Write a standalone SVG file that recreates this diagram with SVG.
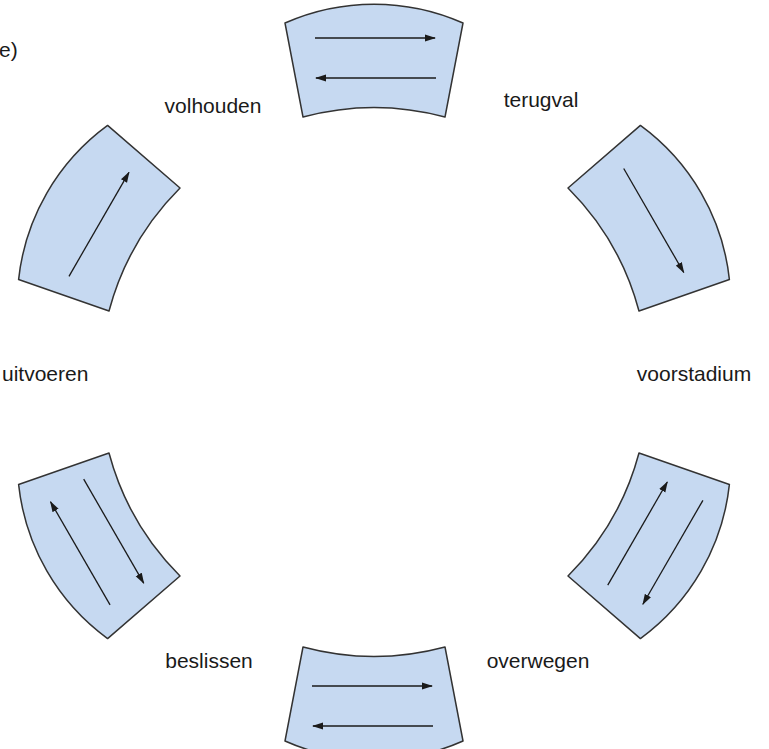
<svg xmlns="http://www.w3.org/2000/svg" width="769" height="749" viewBox="0 0 769 749">
<defs>
<style>
.seg{fill:#c6d9f1;stroke:#333333;stroke-width:1.5;stroke-linejoin:round}
.arr{stroke:#1a1a1a;stroke-width:1.3;fill:none;marker-end:url(#ah)}
.lbl{font-family:"Liberation Sans",Arial,Helvetica,sans-serif;font-size:21px;fill:#1a1a1a}
</style>
<marker id="ah" markerWidth="11" markerHeight="8" refX="10" refY="4" orient="auto" markerUnits="userSpaceOnUse">
<path d="M0,0.5 L11,4 L0,7.5 Z" fill="#1a1a1a"/>
</marker>
<path id="band" d="M285,23 A220,220 0 0 1 463,23 L445,117 A274,274 0 0 0 303,117 Z"/>
</defs>
<rect width="769" height="749" fill="#ffffff"/>

<g id="seg-top"><use href="#band" class="seg"/></g>
<g id="seg-upper-right" transform="rotate(60 374 382)"><use href="#band" class="seg"/></g>
<g id="seg-lower-right" transform="rotate(120 374 382)"><use href="#band" class="seg"/></g>
<g id="seg-bottom" transform="rotate(180 374 382)"><use href="#band" class="seg"/></g>
<g id="seg-lower-left" transform="rotate(240 374 382)"><use href="#band" class="seg"/></g>
<g id="seg-upper-left" transform="rotate(300 374 382)"><use href="#band" class="seg"/></g>

<g id="connectors">
<g transform="rotate(0 374 382)">
<line class="arr" x1="315" y1="38" x2="435" y2="38"/>
<line class="arr" x1="436" y1="78" x2="316" y2="78"/>
</g>
<g transform="rotate(60 374 382)">
<line class="arr" x1="314" y1="59" x2="434" y2="59"/>
</g>
<g transform="rotate(120 374 382)">
<line class="arr" x1="312" y1="38" x2="432" y2="38"/>
<line class="arr" x1="433" y1="78" x2="314" y2="78"/>
</g>
<g transform="rotate(180 374 382)">
<line class="arr" x1="315" y1="38" x2="435" y2="38"/>
<line class="arr" x1="436" y1="78" x2="316" y2="78"/>
</g>
<g transform="rotate(240 374 382)">
<line class="arr" x1="313" y1="42" x2="432" y2="42"/>
<line class="arr" x1="435" y1="82" x2="315" y2="82"/>
</g>
<g transform="rotate(300 374 382)">
<line class="arr" x1="313" y1="65" x2="433" y2="65"/>
</g>
</g>

<g id="labels">
<text class="lbl" x="-1" y="57">e)</text>
<text class="lbl" x="213" y="113" text-anchor="middle">volhouden</text>
<text class="lbl" x="541" y="107" text-anchor="middle">terugval</text>
<text class="lbl" x="2" y="381">uitvoeren</text>
<text class="lbl" x="694" y="381" text-anchor="middle">voorstadium</text>
<text class="lbl" x="209" y="668" text-anchor="middle">beslissen</text>
<text class="lbl" x="538" y="668" text-anchor="middle">overwegen</text>
</g>
</svg>
